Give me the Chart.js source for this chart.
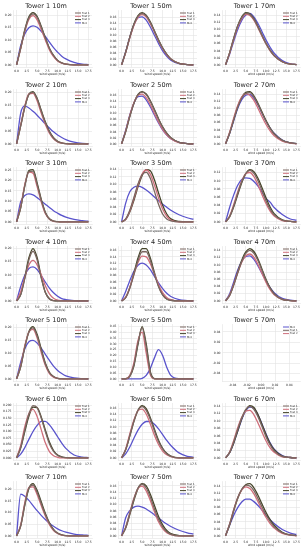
<!DOCTYPE html>
<html>
<head>
<meta charset="utf-8">
<script src="https://cdn.jsdelivr.net/npm/chart.js@4"></script>
<style>
  body { margin: 0; background: #fff; width: 308px; height: 550px; overflow: hidden; position: relative; }
  canvas { position: absolute; }
</style>
</head>
<body>
<script>
// wind speed grid (m/s) shared by every panel
const windSpeed = [0, 1, 2, 3, 4, 5, 6, 7, 8, 9, 10, 11, 12, 14, 16, 17.5];
const xTickLabels = ['0.0', '2.5', '5.0', '7.5', '10.0', '12.5', '15.0', '17.5'];
const seriesNames = ['Test 1', 'Test 2', 'Test 3', 'Met'];
const seriesColors = ['#7a6660', '#cf6f7b', '#45452a', '#5a54cc'];

// y tick label sets
const ticks20 = ['0.00', '0.05', '0.10', '0.15', '0.20'];
const ticks25 = ['0.00', '0.05', '0.10', '0.15', '0.20', '0.25'];
const ticks16 = ['0.00', '0.02', '0.04', '0.06', '0.08', '0.10', '0.12', '0.14', '0.16'];
const ticks14 = ['0.00', '0.02', '0.04', '0.06', '0.08', '0.10', '0.12', '0.14'];
const ticks12 = ['0.00', '0.02', '0.04', '0.06', '0.08', '0.10', '0.12'];
const ticks45 = ['0.00', '0.05', '0.10', '0.15', '0.20', '0.25', '0.30', '0.35', '0.40', '0.45'];
const ticks200 = ['0.000', '0.025', '0.050', '0.075', '0.100', '0.125', '0.150', '0.175', '0.200'];
const ticksEmpty = ['-0.04', '-0.02', '0.00', '0.02', '0.04'];

// each panel: [Test 1, Test 2, Test 3, Met]
const tower1_10m = [
  [0, .066, .137, .189, .205, .191, .152, .107, .066, .037, .018, .008, .003, 0, 0, 0],
  [0, .066, .135, .183, .198, .181, .142, .1, .06, .033, .016, .007, .003, 0, 0, 0],
  [0, .067, .141, .193, .21, .195, .155, .109, .067, .038, .018, .008, .003, 0, 0, 0],
  [0, .078, .124, .149, .157, .151, .135, .114, .091, .069, .051, .035, .024, .01, .003, .001]
];
const tower1_50m = [
  [0, .042, .092, .135, .163, .172, .164, .142, .112, .082, .056, .035, .02, .005, .001, 0],
  [0, .041, .09, .132, .159, .168, .16, .138, .11, .08, .054, .034, .02, .005, .001, 0],
  [0, .043, .093, .137, .165, .175, .166, .144, .114, .084, .057, .036, .02, .005, .001, 0],
  [0, .044, .093, .134, .158, .161, .15, .127, .099, .072, .047, .029, .016, .004, .001, 0]
];
const tower1_70m = [
  [0, .034, .074, .11, .134, .146, .143, .129, .107, .083, .06, .041, .026, .009, .002, .001],
  [0, .033, .072, .107, .131, .143, .14, .127, .105, .081, .059, .04, .026, .009, .002, .001],
  [0, .034, .075, .111, .136, .148, .145, .131, .109, .084, .061, .042, .027, .009, .002, .001],
  [0, .03, .066, .1, .126, .141, .146, .136, .117, .094, .07, .05, .033, .012, .003, .001]
];
const tower2_10m = [
  [0, .071, .144, .193, .201, .175, .128, .083, .047, .022, .009, .003, .001, 0, 0, 0],
  [0, .074, .148, .195, .197, .168, .12, .077, .042, .02, .008, .003, .001, 0, 0, 0],
  [0, .07, .143, .194, .204, .178, .131, .086, .049, .024, .01, .004, .001, 0, 0, 0],
  [0, .12, .148, .14, .127, .112, .095, .078, .062, .047, .035, .025, .017, .007, .002, .001]
];
const tower2_50m = [
  [0, .04, .09, .133, .161, .17, .162, .14, .111, .081, .055, .035, .02, .005, .001, 0],
  [0, .043, .094, .135, .16, .164, .152, .129, .1, .072, .048, .03, .017, .004, .001, 0],
  [0, .041, .091, .134, .163, .172, .164, .142, .113, .083, .056, .035, .02, .005, .001, 0],
  [0, .045, .095, .134, .155, .157, .145, .122, .095, .069, .046, .029, .017, .005, .001, 0]
];
const tower2_70m = [
  [0, .03, .068, .104, .13, .143, .145, .133, .112, .088, .064, .044, .028, .01, .003, .001],
  [0, .033, .073, .109, .133, .142, .138, .123, .101, .077, .055, .037, .023, .008, .002, 0],
  [0, .03, .068, .105, .132, .146, .148, .136, .115, .09, .066, .045, .029, .01, .003, .001],
  [0, .029, .065, .1, .125, .138, .14, .129, .11, .087, .064, .045, .03, .011, .003, .001]
];
const tower3_10m = [
  [0, .069, .173, .242, .245, .181, .105, .044, .014, .004, .001, 0, 0, 0, 0, 0],
  [0, .075, .18, .24, .235, .17, .097, .04, .013, .003, .001, 0, 0, 0, 0, 0],
  [0, .068, .175, .248, .252, .188, .11, .047, .015, .004, .001, 0, 0, 0, 0, 0],
  [0, .097, .127, .135, .13, .117, .101, .085, .069, .054, .042, .031, .023, .012, .006, .003]
];
const tower3_50m = [
  [0, .008, .031, .065, .101, .126, .132, .116, .081, .047, .021, .008, .003, 0, 0, 0],
  [0, .007, .029, .062, .098, .127, .138, .127, .098, .064, .034, .015, .005, 0, 0, 0],
  [0, .006, .026, .057, .093, .123, .139, .136, .112, .077, .044, .021, .008, .001, 0, 0],
  [0, .05, .08, .092, .095, .092, .085, .076, .066, .056, .047, .039, .031, .019, .011, .007]
];
const tower3_70m = [
  [0, .013, .038, .069, .098, .118, .125, .118, .1, .076, .051, .031, .017, .004, .001, 0],
  [0, .014, .042, .073, .1, .117, .12, .11, .09, .066, .044, .026, .014, .003, .001, 0],
  [0, .012, .036, .066, .095, .117, .127, .122, .106, .083, .058, .036, .02, .005, .001, 0],
  [0, .035, .065, .089, .103, .107, .106, .098, .087, .072, .057, .048, .035, .018, .007, .004]
];
const tower4_10m = [
  [0, .023, .085, .157, .19, .157, .088, .032, .007, .001, 0, 0, 0, 0, 0, 0],
  [0, .035, .09, .137, .155, .138, .1, .058, .027, .01, .003, .001, 0, 0, 0, 0],
  [0, .024, .09, .165, .2, .166, .092, .033, .008, .001, 0, 0, 0, 0, 0, 0],
  [0, .055, .098, .124, .13, .12, .097, .072, .049, .031, .018, .009, .005, .001, 0, 0]
];
const tower4_50m = [
  [0, .01, .04, .083, .128, .156, .156, .128, .085, .045, .019, .006, .002, 0, 0, 0],
  [0, .012, .043, .085, .122, .142, .14, .118, .086, .052, .026, .011, .004, 0, 0, 0],
  [0, .011, .042, .088, .136, .166, .166, .136, .09, .048, .02, .006, .002, 0, 0, 0],
  [0, .03, .064, .094, .113, .12, .114, .099, .078, .057, .039, .024, .014, .004, .001, 0]
];
const tower4_70m = [
  [0, .015, .043, .077, .109, .132, .14, .132, .112, .085, .057, .035, .019, .004, .001, 0],
  [0, .016, .045, .078, .107, .125, .13, .121, .101, .076, .051, .031, .017, .004, .001, 0],
  [0, .015, .045, .08, .113, .136, .145, .137, .116, .088, .059, .036, .02, .004, .001, 0],
  [0, .02, .052, .086, .11, .123, .125, .115, .097, .076, .055, .037, .023, .007, .002, 0]
];
const tower5_10m = [
  [0, .048, .124, .182, .199, .168, .112, .058, .024, .008, .002, 0, 0, 0, 0, 0],
  [0, .052, .13, .183, .193, .16, .104, .053, .021, .007, .002, 0, 0, 0, 0, 0],
  [0, .047, .125, .185, .204, .174, .117, .062, .026, .009, .002, .001, 0, 0, 0, 0],
  [0, .065, .117, .145, .15, .14, .12, .096, .072, .05, .033, .021, .012, .004, .001, 0]
];
const tower5_50m = [
  [0, .001, .025, .119, .308, .44, .277, .051, .001, 0, 0, 0, 0, 0, 0, 0],
  [0, .001, .03, .14, .33, .4, .22, .035, .001, 0, 0, 0, 0, 0, 0, 0],
  [0, 0, .022, .11, .295, .448, .3, .062, .003, 0, 0, 0, 0, 0, 0, 0],
  [0, 0, 0, 0, 0, .005, .03, .09, .18, .25, .2, .1, .03, .001, 0, 0]
];
const tower5_70m = [];
const tower5_70mNames = ['Met', 'Test 1', 'Test 2'];
const tower5_70mColors = ['#5a54cc', '#7a6660', '#cf6f7b'];
const tower6_10m = [
  [0, .04, .106, .166, .198, .19, .151, .1, .054, .025, .009, .003, .001, 0, 0, 0],
  [0, .047, .118, .168, .184, .157, .107, .057, .024, .008, .002, 0, 0, 0, 0, 0],
  [0, .037, .1, .158, .192, .19, .155, .106, .06, .028, .011, .004, .001, 0, 0, 0],
  [0, .014, .039, .07, .1, .123, .138, .138, .125, .104, .08, .056, .036, .011, .003, .001]
];
const tower6_50m = [
  [0, .027, .072, .118, .153, .165, .153, .124, .087, .053, .029, .013, .005, 0, 0, 0],
  [0, .029, .077, .122, .152, .157, .141, .109, .073, .043, .022, .01, .004, 0, 0, 0],
  [0, .026, .07, .117, .153, .168, .158, .129, .092, .057, .031, .015, .006, 0, 0, 0],
  [0, .013, .035, .063, .089, .108, .117, .117, .108, .093, .075, .056, .04, .016, .005, .002]
];
const tower6_70m = [
  [0, .015, .043, .077, .109, .132, .14, .132, .112, .085, .057, .035, .019, .004, .001, 0],
  [0, .016, .047, .082, .11, .127, .129, .117, .095, .07, .046, .027, .015, .003, .001, 0],
  [0, .014, .04, .073, .106, .13, .142, .137, .118, .091, .063, .039, .022, .005, .001, 0],
  [0, .014, .04, .072, .104, .128, .138, .135, .117, .092, .065, .041, .024, .006, .001, 0]
];
const tower7_10m = [
  [0, .044, .136, .205, .218, .187, .139, .092, .053, .026, .011, .004, .001, 0, 0, 0],
  [0, .047, .142, .208, .21, .177, .13, .085, .048, .023, .01, .003, .001, 0, 0, 0],
  [0, .042, .131, .203, .224, .195, .146, .097, .056, .028, .012, .004, .001, 0, 0, 0],
  [0, .179, .17, .152, .13, .108, .088, .07, .054, .041, .03, .022, .016, .008, .004, .002]
];
const tower7_50m = [
  [0, .027, .072, .118, .153, .165, .153, .124, .087, .053, .029, .013, .005, 0, 0, 0],
  [0, .028, .074, .12, .152, .159, .144, .113, .077, .045, .023, .01, .004, 0, 0, 0],
  [0, .025, .068, .113, .151, .167, .16, .133, .097, .062, .035, .017, .007, .001, 0, 0],
  [0, .058, .081, .092, .095, .092, .086, .077, .067, .057, .047, .038, .03, .018, .01, .006]
];
const tower7_70m = [
  [0, .033, .073, .108, .132, .144, .141, .128, .106, .082, .059, .041, .026, .009, .002, .001],
  [0, .034, .074, .108, .13, .139, .134, .119, .097, .073, .052, .035, .022, .007, .002, 0],
  [0, .031, .07, .106, .131, .145, .148, .136, .115, .09, .066, .046, .03, .01, .003, .001],
  [0, .03, .058, .08, .096, .104, .104, .097, .086, .073, .059, .046, .035, .018, .008, .004]
];

const panels = [
  ['Tower 1 10m', tower1_10m, ticks20], ['Tower 1 50m', tower1_50m, ticks16], ['Tower 1 70m', tower1_70m, ticks14],
  ['Tower 2 10m', tower2_10m, ticks20], ['Tower 2 50m', tower2_50m, ticks16], ['Tower 2 70m', tower2_70m, ticks14],
  ['Tower 3 10m', tower3_10m, ticks25], ['Tower 3 50m', tower3_50m, ticks14], ['Tower 3 70m', tower3_70m, ticks12],
  ['Tower 4 10m', tower4_10m, ticks20], ['Tower 4 50m', tower4_50m, ticks16], ['Tower 4 70m', tower4_70m, ticks14],
  ['Tower 5 10m', tower5_10m, ticks20], ['Tower 5 50m', tower5_50m, ticks45], ['Tower 5 70m', tower5_70m, ticksEmpty],
  ['Tower 6 10m', tower6_10m, ticks200], ['Tower 6 50m', tower6_50m, ticks16], ['Tower 6 70m', tower6_70m, ticks14],
  ['Tower 7 10m', tower7_10m, ticks20], ['Tower 7 50m', tower7_50m, ticks16], ['Tower 7 70m', tower7_70m, ticks14]
];

// page layout (px)
const plotLeft = [13.3, 118.3, 222];
const plotWidth = [79, 79, 78];
const rowHeight = 78.57;
const axisW = 13;
const FONT = 'DejaVu Sans';
const GRID = '#e3e3e3';
const TEXT = '#262626';

/* legend drawn inside the plot, top right (matplotlib style) */
const insideLegend = {
  id: 'insideLegend',
  afterDatasetsDraw(chart, args, opts) {
    const { ctx, chartArea: a } = chart;
    ctx.save();
    ctx.font = `2.6px "${FONT}"`;
    ctx.textBaseline = 'middle';
    opts.names.forEach((name, i) => {
      const y = a.top + 3 + i * 3.3;
      ctx.strokeStyle = opts.colors[i];
      ctx.lineWidth = 1;
      ctx.beginPath();
      ctx.moveTo(a.right - 17, y);
      ctx.lineTo(a.right - 11, y);
      ctx.stroke();
      ctx.fillStyle = TEXT;
      ctx.fillText(name, a.right - 10, y);
    });
    ctx.restore();
  }
};

const labelFor = (labels) => (v) => {
  const hit = labels.find(s => Math.abs(parseFloat(s) - v) < 1e-9);
  return hit === undefined ? '' : hit;
};

function renderPanel(i, title, series, yLabels) {
  const col = i % 3, row = Math.floor(i / 3);
  const canvas = document.createElement('canvas');
  canvas.width = axisW + plotWidth[col] + axisW;
  canvas.height = 78;
  canvas.style.left = (plotLeft[col] - axisW) + 'px';
  canvas.style.top = Math.round(row * rowHeight) + 'px';
  document.body.appendChild(canvas);

  const empty = series.length === 0;
  const names = empty ? tower5_70mNames : seriesNames;
  const colors = empty ? tower5_70mColors : seriesColors;
  const xLabels = empty ? ticksEmpty : xTickLabels;

  let xMin = -0.875, xMax = 18.375, yMin = -0.055, yMax = 0.055;
  if (empty) { xMin = -0.055; xMax = 0.055; }
  else {
    const top = Math.max(...series.flat());
    yMin = -0.05 * top; yMax = 1.05 * top;
  }

  const tickFont = { family: FONT, size: 3 };
  const gridOpts = { color: GRID, lineWidth: 0.6, drawTicks: false };

  return new Chart(canvas.getContext('2d'), {
    type: 'line',
    data: {
      datasets: series.map((vals, k) => ({
        label: names[k],
        data: windSpeed.map((x, j) => ({ x, y: vals[j] })),
        borderColor: colors[k],
        borderWidth: 1.3,
        pointRadius: 0,
        cubicInterpolationMode: 'monotone',
        fill: false
      }))
    },
    options: {
      responsive: false,
      animation: false,
      events: [],
      layout: { padding: { left: 0, right: axisW, top: 0, bottom: 0 } },
      plugins: {
        legend: { display: false },
        tooltip: { enabled: false },
        title: {
          display: true, text: title, color: TEXT,
          font: { family: FONT, size: 6.5, weight: 'normal', lineHeight: 1.2 },
          padding: { top: 2, bottom: 0.2 }
        },
        insideLegend: { names, colors }
      },
      scales: {
        x: {
          type: 'linear', min: xMin, max: xMax,
          afterBuildTicks: s => { s.ticks = xLabels.map(t => ({ value: parseFloat(t) })); },
          afterFit: s => { s.height = 10.5; },
          grid: gridOpts,
          border: { color: GRID, width: 0.6 },
          ticks: { font: tickFont, color: TEXT, padding: 1.5, maxRotation: 0, autoSkip: false, callback: labelFor(xLabels) },
          title: { display: true, text: 'wind speed (m/s)', color: TEXT, font: tickFont, padding: { top: 0, bottom: 1.5 } }
        },
        y: {
          min: yMin, max: yMax,
          afterBuildTicks: s => { s.ticks = yLabels.map(t => ({ value: parseFloat(t) })); },
          afterFit: s => { s.width = axisW; },
          grid: gridOpts,
          border: { color: GRID, width: 0.6 },
          ticks: { font: tickFont, color: TEXT, padding: 1.5, autoSkip: false, callback: labelFor(yLabels) }
        }
      }
    },
    plugins: [insideLegend]
  });
}

panels.forEach(([title, series, yLabels], i) => renderPanel(i, title, series, yLabels));
</script>
</body>
</html>
